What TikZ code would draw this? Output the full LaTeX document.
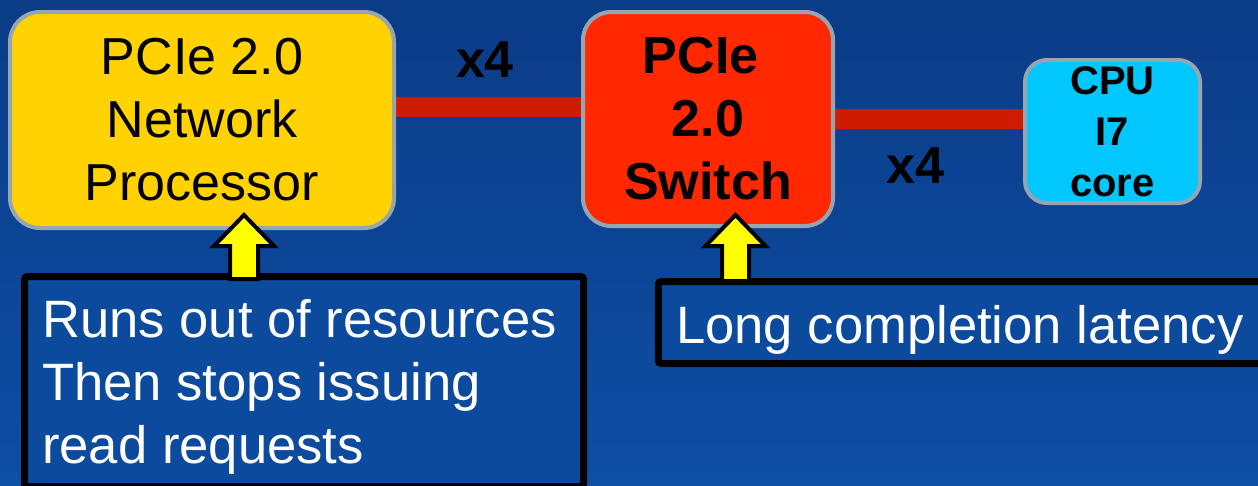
\documentclass[tikz,border=0pt]{standalone}
\usepackage{fontspec}
\setmainfont{Liberation Sans}
\usetikzlibrary{calc}
\pgfdeclarelayer{back}
\pgfdeclarelayer{links}
\pgfsetlayers{back,links,main}
\definecolor{bgtop}{RGB}{10,60,135}
\definecolor{bgbot}{RGB}{14,78,165}
\definecolor{notefill}{RGB}{12,74,158}
\definecolor{npyellow}{RGB}{255,210,0}
\definecolor{swred}{RGB}{255,40,0}
\definecolor{cpucyan}{RGB}{0,200,255}
\definecolor{linkred}{RGB}{205,28,0}
\definecolor{bevel}{RGB}{150,165,175}
\definecolor{arrowyellow}{RGB}{255,255,0}
\begin{document}
\begin{tikzpicture}[x=1pt,y=-1pt,
  comp/.style={draw=bevel, line width=4pt, align=center, inner sep=0pt, text=black},
  link/.style={draw=linkred, line width=20pt},
  lbl/.style={font=\fontsize{52}{63}\selectfont\bfseries, text=black, anchor=base, inner sep=0pt},
  note/.style={draw=black, line width=7pt, fill=notefill, rounded corners=3pt, inner sep=0pt},
  notetext/.style={font=\fontsize{52.6}{63}\selectfont, text=white, align=left, inner sep=0pt},
  blk/.style={draw=black, fill=arrowyellow, line width=4pt, line join=miter}]
\useasboundingbox (0,0) rectangle (1258,485);
\begin{pgfonlayer}{back}
\fill[top color=bgtop, bottom color=bgbot] (0,0) rectangle (1258,485);
\end{pgfonlayer}

% components
\node[comp, fill=npyellow, minimum width=384pt, minimum height=216pt, rounded corners=30pt,
      font=\fontsize{52}{63}\selectfont] (np) at (202,120) {PCIe 2.0\\Network\\Processor};
\node[comp, fill=swred, minimum width=250pt, minimum height=214pt, rounded corners=28pt,
      font=\fontsize{52}{63}\selectfont\bfseries] (sw) at (708,119) {PCIe\phantom{\ }\\2.0\\Switch};
\node[comp, fill=cpucyan, minimum width=175pt, minimum height=143pt, rounded corners=22pt,
      font=\fontsize{40}{51}\selectfont\bfseries] (cpu) at (1112.5,131.5) {CPU\\I7\\core};

% links
\begin{pgfonlayer}{links}
\draw[link] ([yshift=13pt]np.east) -- ([yshift=13pt]np.east -| sw.west);
\draw[link] (sw.east) -- (sw.east -| cpu.west);
\end{pgfonlayer}

\node[lbl] (x4a) at (485,77) {x4};
\node[lbl] (x4b) at (915,183) {x4};

% notes
\node[note, minimum width=559pt, minimum height=210pt] (n1) at (304,381.5) {};
\node[note, minimum width=607pt, minimum height=82pt] (n2) at (961.75,322.5) {};
\node[notetext, anchor=base west] (t1) at (42,463) {Runs out of resources\\Then stops issuing\\read requests};
\node[notetext, anchor=base west] (t2) at (676,343) {Long completion latency};

% block arrows
\coordinate (a1t) at (244,215);
\coordinate (a2t) at (735.5,215);
\draw[blk] (a1t) -- ++(30,31) -- ++(-16,0) -- ++(0,33) -- ++(-28,0) -- ++(0,-33) -- ++(-16,0) -- cycle;
\draw[blk] (a2t) -- ++(30,31) -- ++(-16.5,0) -- ++(0,35) -- ++(-27,0) -- ++(0,-35) -- ++(-16.5,0) -- cycle;
\end{tikzpicture}
\end{document}
